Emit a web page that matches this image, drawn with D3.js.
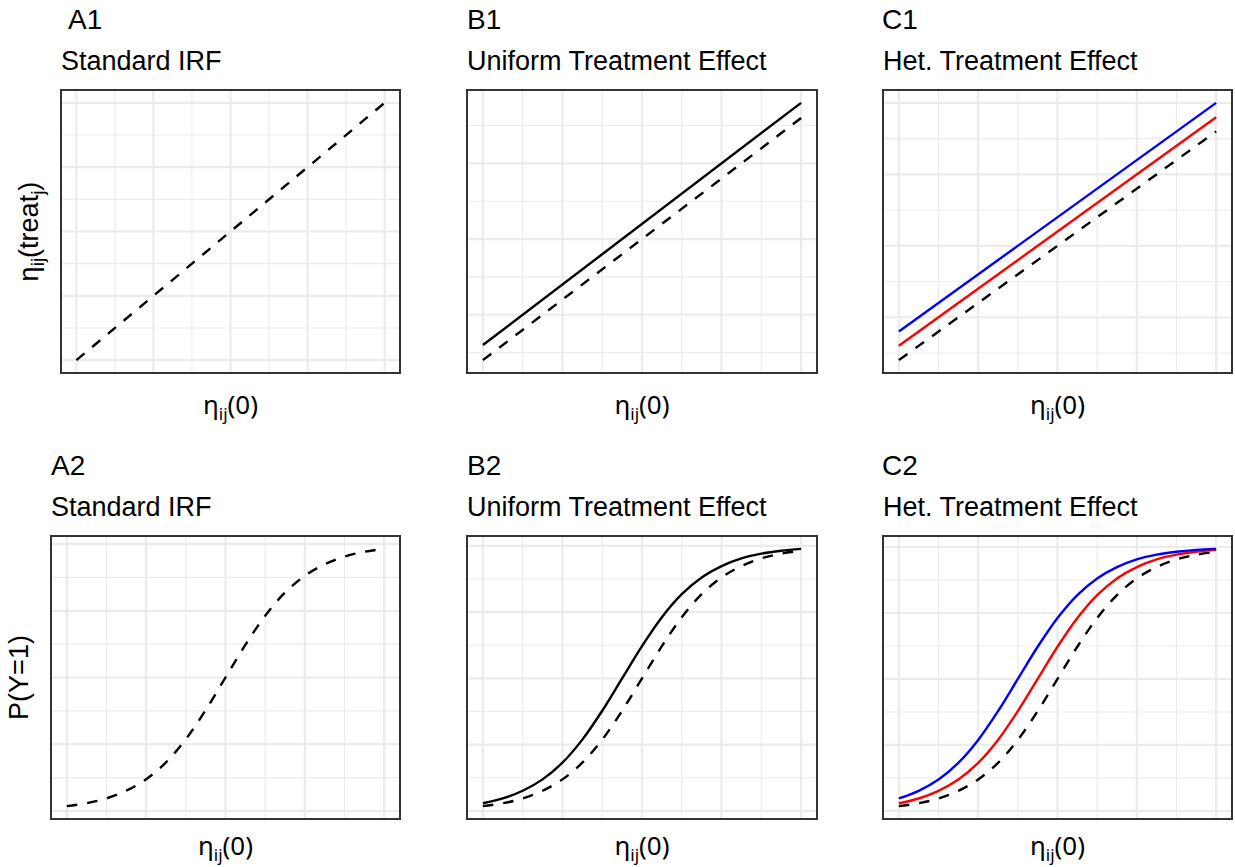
<!DOCTYPE html>
<html>
<head>
<meta charset="utf-8">
<script src="https://cdn.jsdelivr.net/npm/d3@7"></script>
<style>
body { margin: 0; background: #ffffff; }
</style>
</head>
<body>
<svg id="fig" width="1235" height="867"></svg>
<script>
// ---- data ----
var xLine = [-4, 4];
var xCurve = [-4, -3.5, -3, -2.5, -2, -1.5, -1, -0.5, 0, 0.5, 1, 1.5, 2, 2.5, 3, 3.5, 4];

// top row: eta(treat) against eta(0)
var etaBase = [-4, 4];
var etaShiftSmall = [-3.5, 4.5];
var etaShiftLarge = [-3, 5];

// bottom row: P(Y=1) against eta(0)
var pBase       = [0.018, 0.029, 0.047, 0.076, 0.119, 0.182, 0.269, 0.378, 0.500, 0.622, 0.731, 0.818, 0.881, 0.924, 0.953, 0.971, 0.982];
var pShiftSmall = [0.029, 0.047, 0.076, 0.119, 0.182, 0.269, 0.378, 0.500, 0.622, 0.731, 0.818, 0.881, 0.924, 0.953, 0.971, 0.982, 0.989];
var pShiftLarge = [0.047, 0.076, 0.119, 0.182, 0.269, 0.378, 0.500, 0.622, 0.731, 0.818, 0.881, 0.924, 0.953, 0.971, 0.982, 0.989, 0.993];

var tags = ['A1', 'B1', 'C1', 'A2', 'B2', 'C2'];
var subtitles = ['Standard IRF', 'Uniform Treatment Effect', 'Het. Treatment Effect'];

// grid breaks (no tick labels are shown)
var xMajor = [-4, -2, 0, 2, 4];
var xMinor = [-3, -1, 1, 3];
var yMajorEtaA = [-4, -2, 0, 2, 4];
var yMinorEtaA = [-3, -1, 1, 3];
var yMajorEtaBC = [-2.5, 0, 2.5, 5];
var yMinorEtaBC = [-3.75, -1.25, 1.25, 3.75];
var yMajorP = [0, 0.25, 0.5, 0.75, 1];
var yMinorP = [0.125, 0.375, 0.625, 0.875];

// ---- styling ----
const GRID_COLOR = '#ebebeb';
const BORDER_COLOR = '#333333';
const LINE_W = 2.4;
const DASH = '10.5,10';
const FONT = '"Liberation Sans", Arial, sans-serif';

var svg = d3.select('#fig');

var rows = [
    {top: 90, bottom: 373, tagY: 29, subY: 70, xlabY: 414},
    {top: 536, bottom: 819, tagY: 475, subY: 516, xlabY: 855}
];
var cols = [
    [{left: 61, right: 400, tagX: 68}, {left: 467, right: 817, tagX: 467}, {left: 883, right: 1232, tagX: 882}],
    [{left: 51, right: 400, tagX: 51}, {left: 467, right: 817, tagX: 467}, {left: 883, right: 1232, tagX: 882}]
];

function ser(x, y, color, dashed) {
    var pts = x.map(function(d, i) { return {x: d, y: y[i]}; });
    return {pts: pts, color: color, dashed: dashed};
}

var panels = [
    // top row
    {series: [ser(xLine, etaBase, 'black', true)], yMajor: yMajorEtaA, yMinor: yMinorEtaA, curve: d3.curveLinear},
    {series: [ser(xLine, etaBase, 'black', true), ser(xLine, etaShiftSmall, 'black', false)],
        yMajor: yMajorEtaBC, yMinor: yMinorEtaBC, curve: d3.curveLinear},
    {series: [ser(xLine, etaBase, 'black', true), ser(xLine, etaShiftSmall, '#ff0000', false), ser(xLine, etaShiftLarge, '#0000ff', false)],
        yMajor: yMajorEtaBC, yMinor: yMinorEtaBC, curve: d3.curveLinear},
    // bottom row
    {series: [ser(xCurve, pBase, 'black', true)], yMajor: yMajorP, yMinor: yMinorP, curve: d3.curveCatmullRom},
    {series: [ser(xCurve, pBase, 'black', true), ser(xCurve, pShiftSmall, 'black', false)],
        yMajor: yMajorP, yMinor: yMinorP, curve: d3.curveCatmullRom},
    {series: [ser(xCurve, pBase, 'black', true), ser(xCurve, pShiftSmall, '#ff0000', false), ser(xCurve, pShiftLarge, '#0000ff', false)],
        yMajor: yMajorP, yMinor: yMinorP, curve: d3.curveCatmullRom}
];

// ggplot-like 5% expansion
function expand(ext) {
    var pad = (ext[1] - ext[0]) * 0.05;
    return [ext[0] - pad, ext[1] + pad];
}

function drawPanel(p, r, c, idx) {
    var row = rows[r];
    var col = cols[r][c];
    var g = svg.append('g');

    var allX = [], allY = [];
    p.series.forEach(function(s) {
        s.pts.forEach(function(d) { allX.push(d.x); allY.push(d.y); });
    });
    var xs = d3.scaleLinear().domain(expand(d3.extent(allX))).range([col.left, col.right]);
    var ys = d3.scaleLinear().domain(expand(d3.extent(allY))).range([row.bottom, row.top]);

    var inX = function(v) { return v >= xs.domain()[0] && v <= xs.domain()[1]; };
    var inY = function(v) { return v >= ys.domain()[0] && v <= ys.domain()[1]; };

    // grid - minor first, major on top
    [[xMinor, 1.1], [xMajor, 2.2]].forEach(function(b) {
        g.selectAll(null).data(b[0].filter(inX)).enter().append('line')
        .attr('x1', function(d) { return xs(d); })
        .attr('x2', function(d) { return xs(d); })
        .attr('y1', row.top)
        .attr('y2', row.bottom)
        .style('stroke', GRID_COLOR)
        .style('stroke-width', b[1]);
    });
    [[p.yMinor, 1.1], [p.yMajor, 2.2]].forEach(function(b) {
        g.selectAll(null).data(b[0].filter(inY)).enter().append('line')
        .attr('y1', function(d) { return ys(d); })
        .attr('y2', function(d) { return ys(d); })
        .attr('x1', col.left)
        .attr('x2', col.right)
        .style('stroke', GRID_COLOR)
        .style('stroke-width', b[1]);
    });

    var line = d3.line()
        .x(function(d) { return xs(d.x); })
        .y(function(d) { return ys(d.y); })
        .curve(p.curve);

    p.series.forEach(function(s) {
        g.append('path')
        .attr('d', line(s.pts))
        .style('fill', 'none')
        .style('stroke', s.color)
        .style('stroke-width', LINE_W)
        .style('stroke-dasharray', s.dashed ? DASH : null);
    });

    // panel border
    g.append('rect')
    .attr('x', col.left)
    .attr('y', row.top)
    .attr('width', col.right - col.left)
    .attr('height', row.bottom - row.top)
    .style('fill', 'none')
    .style('stroke', BORDER_COLOR)
    .style('stroke-width', 2);

    // tag + subtitle
    g.append('text')
    .attr('x', col.tagX)
    .attr('y', row.tagY)
    .style('font-family', FONT)
    .style('font-size', '28px')
    .style('fill', '#000')
    .text(tags[idx]);

    g.append('text')
    .attr('x', col.left)
    .attr('y', row.subY)
    .style('font-family', FONT)
    .style('font-size', '27px')
    .style('fill', '#000')
    .text(subtitles[c]);

    // x title: eta_ij(0)
    var xt = g.append('text')
    .attr('x', (col.left + col.right) / 2)
    .attr('y', row.xlabY)
    .attr('text-anchor', 'middle')
    .style('font-family', '"Noto Sans", sans-serif')
    .style('font-size', '26px')
    .style('fill', '#000');
    xt.append('tspan').text('η');
    xt.append('tspan').attr('dy', 6).style('font-size', '17px').text('ij');
    xt.append('tspan').attr('dy', -6).text('(0)');

    // y title only on first column
    if (c === 0) {
        var cy = (row.top + row.bottom) / 2;
        var yt = g.append('text')
        .attr('transform', 'translate(' + (col.left - 23) + ',' + cy + ') rotate(-90)')
        .attr('text-anchor', 'middle')
        .style('font-family', FONT)
        .style('font-size', '27px')
        .style('fill', '#000');
        if (r === 0) {
            yt.append('tspan').text('η');
            yt.append('tspan').attr('dy', 6).style('font-size', '19px').text('ij');
            yt.append('tspan').attr('dy', -6).text('(treat');
            yt.append('tspan').attr('dy', 6).style('font-size', '19px').text('j');
            yt.append('tspan').attr('dy', -6).text(')');
        } else {
            yt.text('P(Y=1)');
        }
    }
}

panels.forEach(function(p, i) {
    drawPanel(p, Math.floor(i / 3), i % 3, i);
});
</script>
</body>
</html>
